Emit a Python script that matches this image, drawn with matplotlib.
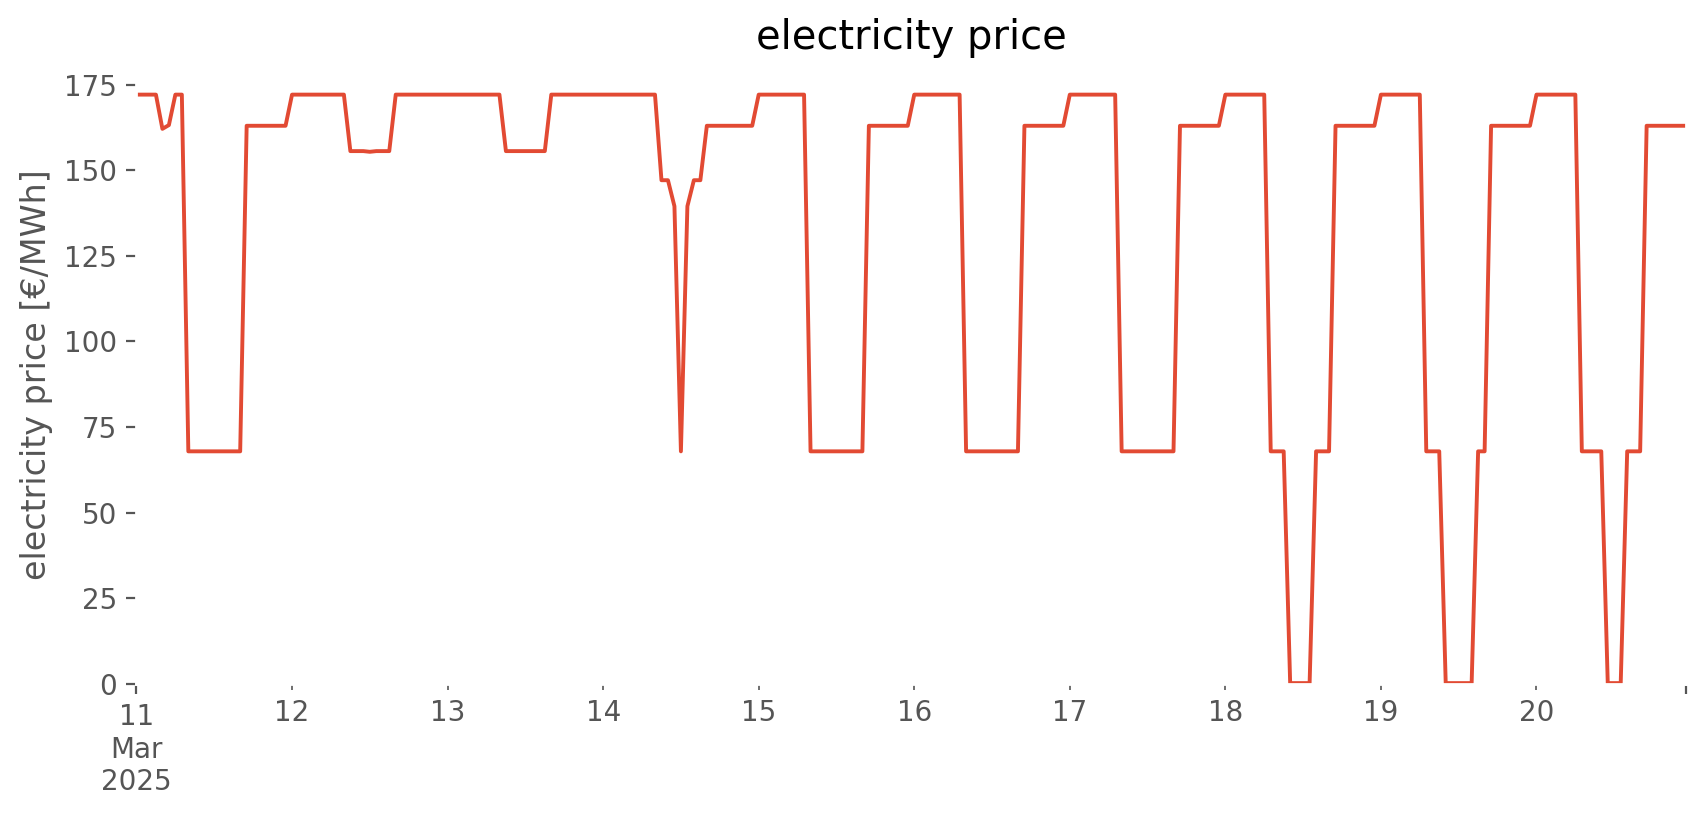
import pandas as pd
import matplotlib.pyplot as plt

# hourly prices per day (EUR/MWh)
mar_11 = [172.1, 172.1, 172.1, 172.1, 162.1, 163.2, 172.1, 172.1,
          67.9, 67.9, 67.9, 67.9, 67.9, 67.9, 67.9, 67.9, 67.9,
          163.0, 163.0, 163.0, 163.0, 163.0, 163.0, 163.0]
mar_12 = [172.1, 172.1, 172.1, 172.1, 172.1, 172.1, 172.1, 172.1, 172.1,
          155.6, 155.6, 155.6, 155.4, 155.6, 155.6, 155.6,
          172.1, 172.1, 172.1, 172.1, 172.1, 172.1, 172.1, 172.1]
mar_13 = [172.1, 172.1, 172.1, 172.1, 172.1, 172.1, 172.1, 172.1, 172.1,
          155.6, 155.6, 155.6, 155.6, 155.6, 155.6, 155.6,
          172.1, 172.1, 172.1, 172.1, 172.1, 172.1, 172.1, 172.1]
mar_14 = [172.1, 172.1, 172.1, 172.1, 172.1, 172.1, 172.1, 172.1, 172.1,
          147.1, 147.1, 139.5, 67.9, 139.5, 147.1, 147.1,
          163.0, 163.0, 163.0, 163.0, 163.0, 163.0, 163.0, 163.0]
mar_15 = [172.1, 172.1, 172.1, 172.1, 172.1, 172.1, 172.1, 172.1,
          67.9, 67.9, 67.9, 67.9, 67.9, 67.9, 67.9, 67.9, 67.9,
          163.0, 163.0, 163.0, 163.0, 163.0, 163.0, 163.0]
mar_16 = [172.1, 172.1, 172.1, 172.1, 172.1, 172.1, 172.1, 172.1,
          67.9, 67.9, 67.9, 67.9, 67.9, 67.9, 67.9, 67.9, 67.9,
          163.0, 163.0, 163.0, 163.0, 163.0, 163.0, 163.0]
mar_17 = [172.1, 172.1, 172.1, 172.1, 172.1, 172.1, 172.1, 172.1,
          67.9, 67.9, 67.9, 67.9, 67.9, 67.9, 67.9, 67.9, 67.9,
          163.0, 163.0, 163.0, 163.0, 163.0, 163.0, 163.0]
mar_18 = [172.1, 172.1, 172.1, 172.1, 172.1, 172.1, 172.1,
          67.9, 67.9, 67.9, 0.2, 0.2, 0.2, 0.2, 67.9, 67.9, 67.9,
          163.0, 163.0, 163.0, 163.0, 163.0, 163.0, 163.0]
mar_19 = [172.1, 172.1, 172.1, 172.1, 172.1, 172.1, 172.1,
          67.9, 67.9, 67.9, 0.2, 0.2, 0.2, 0.2, 0.2, 67.9, 67.9,
          163.0, 163.0, 163.0, 163.0, 163.0, 163.0, 163.0]
mar_20 = [172.1, 172.1, 172.1, 172.1, 172.1, 172.1, 172.1,
          67.9, 67.9, 67.9, 67.9, 0.2, 0.2, 0.2, 67.9, 67.9, 67.9,
          163.0, 163.0, 163.0, 163.0, 163.0, 163.0, 163.0]

dias = [mar_11, mar_12, mar_13, mar_14, mar_15, mar_16, mar_17, mar_18, mar_19, mar_20]

precios = [v for d in dias for v in d]
indice = pd.date_range('2025-03-11 00:00', periods=len(precios), freq='h')
serie = pd.Series(precios, index=indice, name='electricity price')

plt.style.use('ggplot')
plt.rcParams['axes.facecolor'] = 'white'
plt.rcParams['axes.grid'] = False

fig = plt.figure(figsize=(8.53, 4.075), dpi=200)
ax = fig.add_subplot(111)
serie.plot(ax=ax, color='#E24A33', linewidth=1.4)
ax.set_ylim(bottom=0)
ax.set_title('electricity price')
ax.set_ylabel('electricity price [€/MWh]')
ax.set_xlabel('')
fig.subplots_adjust(left=0.08, right=0.988, top=0.92, bottom=0.161)
plt.savefig('out.png', dpi=200)
